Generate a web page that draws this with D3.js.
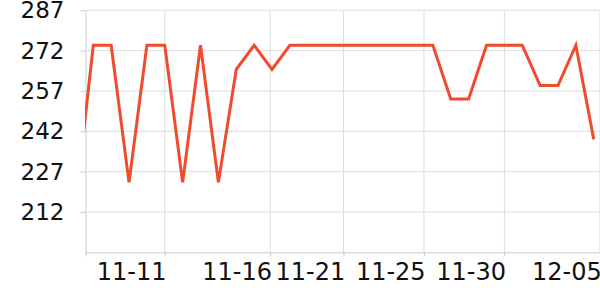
<!DOCTYPE html>
<html>
<head>
<meta charset="utf-8">
<script src="https://cdn.jsdelivr.net/npm/d3@7"></script>
<style>
  body { margin: 0; background: #fff; }
  svg { display: block; font-family: "DejaVu Sans", sans-serif; }
  .grid line { stroke: #dddddd; stroke-width: 1; }
  .axis path, .axis line { stroke: #cccccc; stroke-width: 1; }
</style>
</head>
<body>
<div id="chart"></div>
<script>
// series values, one per category (the first one sits just outside the visible window)
var values = [214, 274, 274, 223, 274, 274, 223, 274, 223, 265,
              274, 265, 274, 274, 274, 274, 274, 274, 274, 274,
              274, 254, 254, 274, 274, 274, 259, 259, 274, 239];

// visible window on the category axis
var viewStart = 0.565,
    viewEnd = 29.35;

// date labels and the category position they sit at
var tickLabels = ["11-11", "11-16", "11-21", "11-25", "11-30", "12-05"],
    tickPos = [5, 10.9, 15, 19.5, 24, 29.35];

var yMin = 197, yMax = 287,
    yTicks = [212, 227, 242, 257, 272, 287];

var width = 600, height = 300,
    margin = {top: 10.3, right: 0, bottom: 47.7, left: 85.5};

var svg = d3.select("#chart").append("svg")
	.attr("width", width)
	.attr("height", height);

var x = d3.scaleLinear()
	.domain([viewStart, viewEnd])
	.range([margin.left, width - margin.right]);

var y = d3.scaleLinear()
	.domain([yMin, yMax])
	.range([height - margin.bottom, margin.top]);

// horizontal grid
svg.append("g").attr("class", "grid")
	.selectAll("line").data(yTicks).enter()
	.append("line")
	.attr("x1", margin.left)
	.attr("x2", width - margin.right)
	.attr("y1", function(d){ return y(d); })
	.attr("y2", function(d){ return y(d); });

// vertical grid
svg.append("g").attr("class", "grid")
	.selectAll("line").data(tickPos).enter()
	.append("line")
	.attr("x1", function(d){ return x(d); })
	.attr("x2", function(d){ return x(d); })
	.attr("y1", margin.top)
	.attr("y2", height - margin.bottom);

var xAxis = d3.axisBottom(x)
	.tickValues(tickPos)
	.tickFormat(function(d, i){ return tickLabels[i]; })
	.tickSize(4)
	.tickSizeOuter(4)
	.tickPadding(7);

var gx = svg.append("g").attr("class", "axis")
	.attr("transform", "translate(0," + (height - margin.bottom) + ")")
	.call(xAxis);
gx.selectAll("text")
	.attr("text-anchor", "end")
	.attr("dx", "0.05em")
	.attr("font-size", "24px")
	.attr("font-family", "DejaVu Sans, sans-serif")
	.attr("fill", "#111");

var yAxis = d3.axisLeft(y)
	.tickValues(yTicks)
	.tickSize(5)
	.tickSizeOuter(0)
	.tickPadding(16);

var gy = svg.append("g").attr("class", "axis")
	.attr("transform", "translate(" + margin.left + ",0)")
	.call(yAxis);
gy.selectAll("text")
	.attr("font-size", "23px")
	.attr("font-family", "DejaVu Sans, sans-serif")
	.attr("fill", "#111");

// clip the line to the plot window
svg.append("clipPath").attr("id", "plot-clip")
	.append("rect")
	.attr("x", margin.left - 0.5)
	.attr("y", 0)
	.attr("width", width - margin.left)
	.attr("height", height - margin.bottom);

var line = d3.line()
	.x(function(d, i){ return x(i); })
	.y(function(d){ return y(d); });

svg.append("path")
	.datum(values)
	.attr("clip-path", "url(#plot-clip)")
	.attr("d", line)
	.attr("fill", "none")
	.attr("stroke", "#ef4b2c")
	.attr("stroke-width", 3);
</script>
</body>
</html>
